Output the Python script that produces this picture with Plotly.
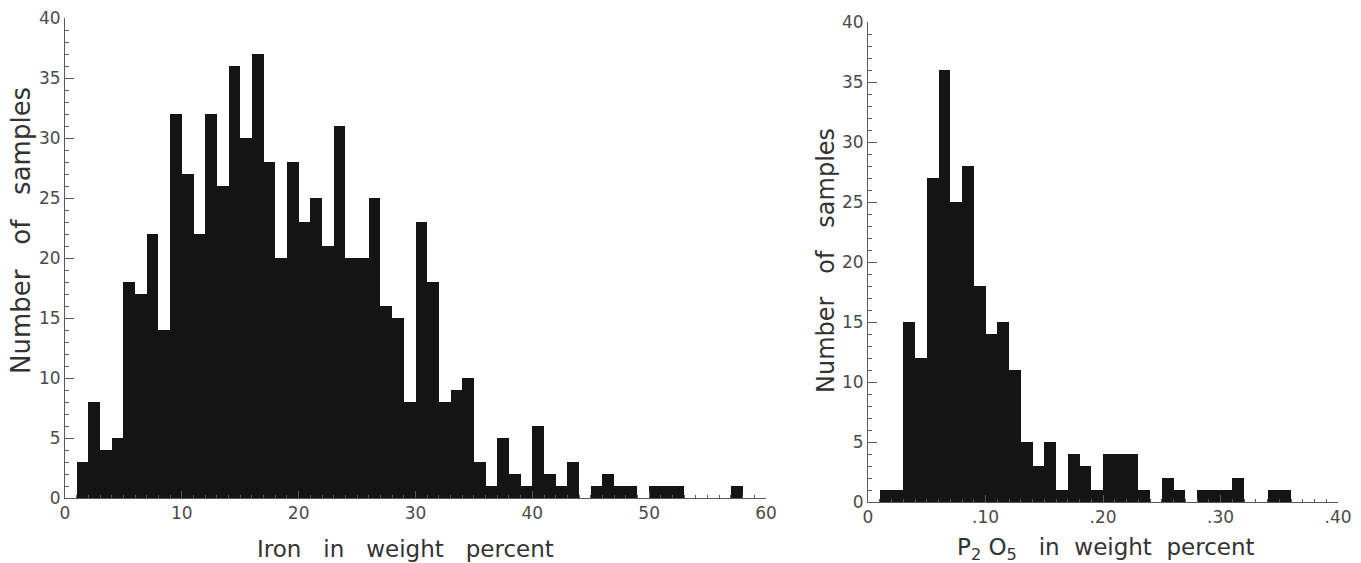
import plotly.graph_objects as go

W, H = 1361, 563

# ---- Data ----
iron_bin_starts = list(range(1, 60))
iron_counts = [3, 8, 4, 5, 18, 17, 22, 14, 32, 27,
               22, 32, 26, 36, 30, 37, 28, 20, 28, 23,
               25, 21, 31, 20, 20, 25, 16, 15, 8, 23,
               18, 8, 9, 10, 3, 1, 5, 2, 1, 6,
               2, 1, 3, 0, 1, 2, 1, 1, 0, 1,
               1, 1, 0, 0, 0, 0, 1, 0, 0]

p2o5_bin_starts = [round(0.01 * k, 2) for k in range(0, 40)]
p2o5_counts = [0, 1, 1, 15, 12, 27, 36, 25, 28, 18,
               14, 15, 11, 5, 3, 5, 1, 4, 3, 1,
               4, 4, 4, 1, 0, 2, 1, 0, 1, 1,
               1, 2, 0, 0, 1, 1, 0, 0, 0, 0]

y_tickvals = [0, 5, 10, 15, 20, 25, 30, 35, 40]
y_ticktext = ["0", "5", "10", "15", "20", "25", "30", "35", "40"]
iron_tickvals = [0, 10, 20, 30, 40, 50, 60]
iron_ticktext = ["0", "10", "20", "30", "40", "50", "60"]
p2o5_tickvals = [0, 0.1, 0.2, 0.3, 0.4]
p2o5_ticktext = ["0", ".10", ".20", ".30", ".40"]

BAR = "#141414"
AX = "#5a5a5a"
TXT = "#4a4a4a"
FONT = "DejaVu Sans"

fig = go.Figure()
fig.add_trace(go.Bar(x=iron_bin_starts, y=iron_counts, width=1, offset=0,
                     marker=dict(color=BAR, line=dict(width=0)),
                     xaxis="x", yaxis="y", showlegend=False))
fig.add_trace(go.Bar(x=p2o5_bin_starts, y=p2o5_counts, width=0.01, offset=0,
                     marker=dict(color=BAR, line=dict(width=0)),
                     xaxis="x2", yaxis="y2", showlegend=False))

def px_x(p):
    return p / W

def px_y(p):
    return (H - p) / H

common_y = dict(range=[0, 40], tickvals=y_tickvals, ticktext=y_ticktext,
                ticks="inside", ticklen=9, tickwidth=1, tickcolor=AX,
                showline=True, linecolor=AX, linewidth=1, showgrid=False,
                zeroline=False, automargin=False,
                tickfont=dict(family=FONT, size=17, color=TXT),
                minor=dict(ticks="inside", ticklen=4, dtick=1, tickcolor=AX,
                           showgrid=False))

common_x = dict(ticks="inside", ticklen=7, tickwidth=1, tickcolor=AX,
                showline=True, linecolor=AX, linewidth=1, showgrid=False,
                zeroline=False, automargin=False,
                tickfont=dict(family=FONT, size=17, color=TXT))

fig.update_layout(
    width=W, height=H, autosize=False,
    margin=dict(l=0, r=0, t=0, b=0, pad=0),
    paper_bgcolor="white", plot_bgcolor="white",
    bargap=0, barmode="overlay",
    xaxis=dict(domain=[px_x(65), px_x(766)], range=[0, 60], anchor="y",
               tickvals=iron_tickvals, ticktext=iron_ticktext,
               minor=dict(ticks="inside", ticklen=3, dtick=1, tickcolor=AX,
                          showgrid=False),
               **common_x),
    yaxis=dict(domain=[px_y(498), px_y(18)], anchor="x", **common_y),
    xaxis2=dict(domain=[px_x(868), px_x(1338)], range=[0, 0.40], anchor="y2",
                tickvals=p2o5_tickvals, ticktext=p2o5_ticktext,
                minor=dict(ticks="inside", ticklen=3, dtick=0.01, tickcolor=AX,
                           showgrid=False),
                **common_x),
    yaxis2=dict(domain=[px_y(502), px_y(22)], anchor="x2", **common_y),
)

def nb(n):
    return "\u00a0" * n

ytitle_left_font = dict(family=FONT, size=26, color="#333333")
ytitle_right_font = dict(family=FONT, size=24, color="#333333")
xtitle_font = dict(family=FONT, size=23, color="#333333")

fig.add_annotation(x=px_x(21), y=px_y(231), xref="paper", yref="paper",
                   text="Number" + nb(3) + "of" + nb(3) + "samples", textangle=-90,
                   showarrow=False, font=ytitle_left_font, xanchor="center", yanchor="middle")
fig.add_annotation(x=px_x(826), y=px_y(261), xref="paper", yref="paper",
                   text="Number" + nb(3) + "of" + nb(3) + "samples", textangle=-90,
                   showarrow=False, font=ytitle_right_font, xanchor="center", yanchor="middle")
fig.add_annotation(x=px_x(405), y=px_y(549), xref="paper", yref="paper",
                   text="Iron" + nb(3) + "in" + nb(3) + "weight" + nb(3) + "percent",
                   showarrow=False, font=xtitle_font, xanchor="center", yanchor="middle")
fig.add_annotation(x=px_x(1106), y=px_y(549), xref="paper", yref="paper",
                   text="P<sub>2</sub>\u00a0O<sub>5</sub>" + nb(3) + "in" + nb(2) + "weight" + nb(2) + "percent",
                   showarrow=False, font=xtitle_font, xanchor="center", yanchor="middle")

fig.write_html("out.html")
